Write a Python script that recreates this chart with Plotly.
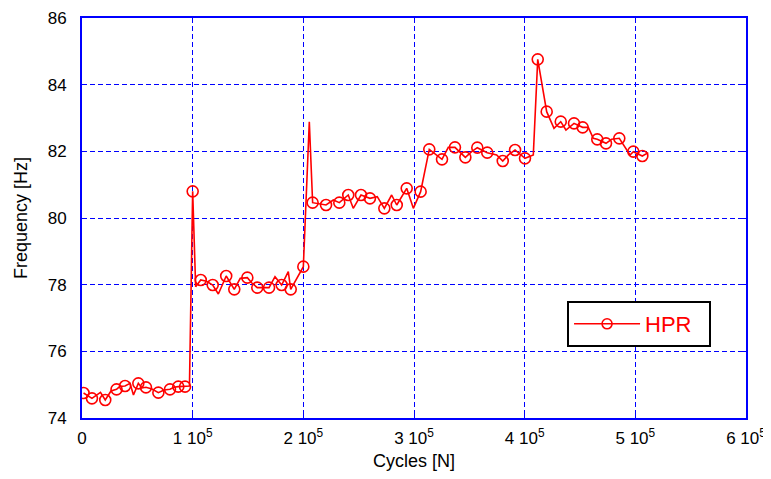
import plotly.graph_objects as go

# Data
cycles = [1400, 9000, 16700, 21000, 26200, 31200, 34300, 38900, 43400, 46500,
          50900, 54200, 57800, 63300, 69000, 74100, 79500, 83100, 87000, 93100,
          97100, 100000, 102700, 107300, 112500, 118100, 123200, 130300, 137600, 143000,
          149400, 153500, 158400, 169000, 174400, 180400, 186400, 188600, 200000, 205400,
          208400, 220500, 227100, 232500, 240600, 245100, 252100, 260200, 266800, 273200,
          279800, 284400, 293400, 299400, 306000, 313800, 325300, 331000, 337000, 346400,
          352100, 357200, 366200, 374700, 380200, 385500, 391300, 400300, 407800, 411800,
          419900, 426500, 432600, 437300, 444600, 452400, 457500, 462000, 465600, 473500,
          478600, 485500, 495200, 498200, 506300, 511700]
freq = [74.75, 74.59, 74.77, 74.54, 74.81, 74.86, 74.95, 74.96, 75.04, 74.69,
        75.04, 74.90, 74.92, 74.87, 74.76, 74.84, 74.86, 74.92, 74.94, 74.94,
        74.96, 80.80, 77.94, 78.14, 78.10, 77.99, 77.72, 78.26, 77.86, 78.19,
        78.21, 78.05, 77.91, 77.91, 78.24, 77.99, 78.39, 77.86, 78.54, 82.89,
        80.46, 80.39, 80.54, 80.46, 80.69, 80.29, 80.69, 80.59, 80.64, 80.29,
        80.69, 80.39, 80.89, 80.29, 80.79, 82.06, 81.76, 82.12, 82.12, 81.82,
        81.99, 82.11, 81.96, 81.89, 81.71, 81.90, 82.04, 81.79, 81.89, 84.76,
        83.19, 82.69, 82.89, 82.64, 82.84, 82.72, 82.72, 82.39, 82.36, 82.24,
        82.36, 82.39, 81.89, 81.99, 81.86, 81.96]
marked = [1, 1, 0, 1, 0, 1, 0, 1, 0, 0,
          1, 0, 1, 0, 1, 0, 1, 0, 1, 1,
          0, 1, 0, 1, 0, 1, 0, 1, 1, 0,
          1, 0, 1, 1, 0, 1, 0, 1, 1, 0,
          1, 1, 0, 1, 1, 0, 1, 1, 0, 1,
          0, 1, 1, 0, 1, 1, 1, 0, 1, 1,
          0, 1, 1, 0, 1, 0, 1, 1, 0, 1,
          1, 0, 1, 0, 1, 1, 0, 0, 1, 1,
          0, 1, 0, 1, 1, 0]

x_ticks = [0, 100000, 200000, 300000, 400000, 500000, 600000]
x_ticklabels = ["0", "1 10<sup>5</sup>", "2 10<sup>5</sup>", "3 10<sup>5</sup>",
                "4 10<sup>5</sup>", "5 10<sup>5</sup>", "6 10<sup>5</sup>"]
y_ticks = [74, 76, 78, 80, 82, 84, 86]
series_name = "HPR"

mx = [c for c, m in zip(cycles, marked) if m]
my = [f for f, m in zip(freq, marked) if m]

RED = "#ff0000"
BLUE = "#0000ff"
FONT = "Liberation Sans, Arial, sans-serif"

fig = go.Figure()
fig.add_trace(go.Scatter(x=cycles, y=freq, mode="lines",
                         line=dict(color=RED, width=1.6), showlegend=False,
                         hoverinfo="skip"))
fig.add_trace(go.Scatter(x=mx, y=my, mode="markers",
                         marker=dict(symbol="circle-open", size=11,
                                     color=RED, line=dict(width=1.6, color=RED)),
                         showlegend=False))
fig.add_trace(go.Scatter(x=[None], y=[None], mode="lines+markers",
                         name=series_name + "\u00a0\u00a0",
                         line=dict(color=RED, width=1.6),
                         marker=dict(symbol="circle-open", size=10,
                                     color=RED, line=dict(width=1.6, color=RED))))

axis_common = dict(
    showline=True, linecolor=BLUE, linewidth=2, mirror="ticks",
    ticks="inside", tickcolor=BLUE, ticklen=5, tickwidth=1,
    showgrid=True, gridcolor=BLUE, gridwidth=1.3, griddash="5px,3px",
    zeroline=False, automargin=False,
    tickfont=dict(family=FONT, size=17, color="#000000"),
)

fig.update_xaxes(range=[0, 600000], tickvals=x_ticks, ticktext=x_ticklabels,
                 title=dict(text="Cycles [N]", font=dict(family=FONT, size=18, color="#000000"),
                            standoff=9),
                 ticklabelstandoff=4,
                 **axis_common)
fig.update_yaxes(range=[74, 86], tickvals=y_ticks,
                 title=dict(text="Frequency [Hz]", font=dict(family=FONT, size=18, color="#000000"),
                            standoff=15),
                 ticklabelstandoff=10,
                 **axis_common)

# The page body has an 8px margin, so the figure is sized to fit the window.
fig.update_layout(
    width=763, height=463,
    margin=dict(l=74, r=25, t=10, b=53),
    paper_bgcolor="white", plot_bgcolor="white",
    font=dict(family=FONT),
    legend=dict(x=0.7305, y=0.2925, xanchor="left", yanchor="top",
                bgcolor="white", bordercolor="#000000", borderwidth=2,
                font=dict(family=FONT, size=22, color=RED),
                itemwidth=66),
)

fig.write_html("out.html")
